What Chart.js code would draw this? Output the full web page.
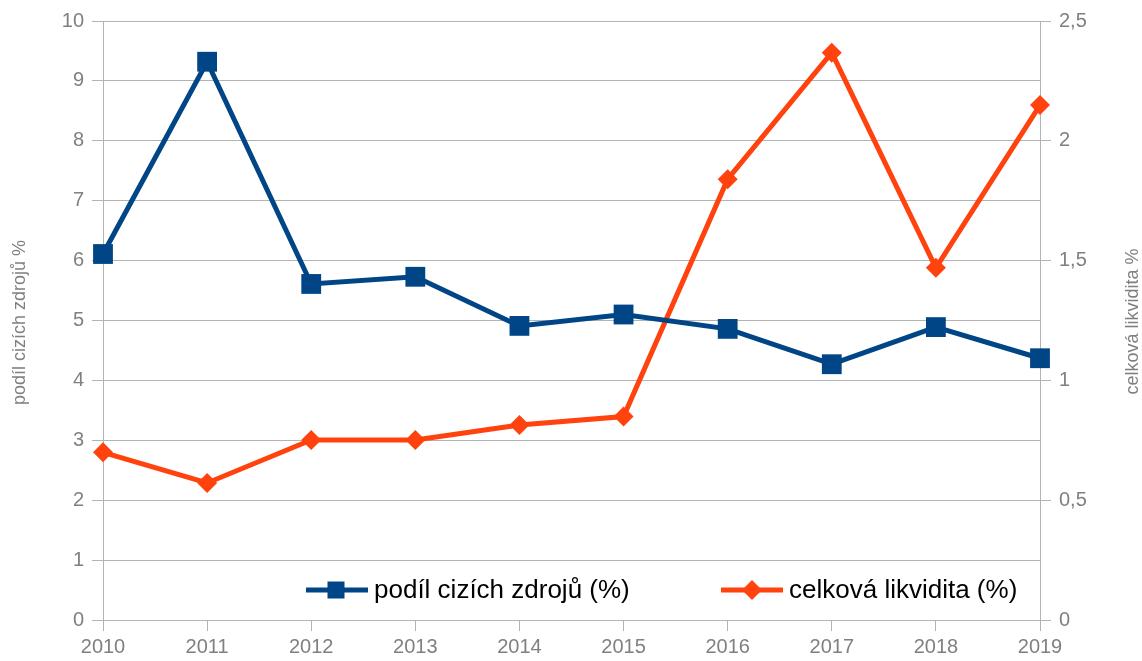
<!DOCTYPE html>
<html><head><meta charset="utf-8">
<script src="https://cdn.jsdelivr.net/npm/chart.js"></script>
<style>html,body{margin:0;padding:0;background:#fff}#wrap{width:1142px;height:661px}</style>
</head><body><div id="wrap"><canvas id="c" width="1142" height="661"></canvas></div>
<script>
const categories = ['2010','2011','2012','2013','2014','2015','2016','2017','2018','2019'];
const podilCizichZdroju = [6.11, 9.32, 5.61, 5.73, 4.91, 5.10, 4.86, 4.27, 4.89, 4.37];
const celkovaLikvidita = [0.70, 0.572, 0.751, 0.751, 0.814, 0.849, 1.84, 2.368, 1.47, 2.149];
const leftTickLabels = ['0','1','2','3','4','5','6','7','8','9','10'];
const rightTickLabels = ['0','0,5','1','1,5','2','2,5'];
const seriesNames = ['podíl cizích zdrojů (%)', 'celková likvidita (%)'];
const axisTitles = ['podíl cizích zdrojů %', 'celková likvidita %'];

const BLUE = '#004586', ORANGE = '#ff420e', GRID = '#b3b3b3', TXT = '#808080';
const FONT = '"Liberation Sans", Arial, sans-serif';

const overlay = {
  id: 'overlay',
  afterDraw(chart) {
    const ctx = chart.ctx, ca = chart.chartArea;
    const cy = (ca.top + ca.bottom) / 2;
    ctx.save();
    ctx.fillStyle = TXT;
    ctx.font = '18px ' + FONT;
    ctx.textAlign = 'center';
    ctx.textBaseline = 'middle';
    ctx.translate(20, cy + 2);
    ctx.rotate(-Math.PI / 2);
    ctx.fillText(axisTitles[0], 0, 0);
    ctx.restore();
    ctx.save();
    ctx.fillStyle = TXT;
    ctx.font = '18px ' + FONT;
    ctx.textAlign = 'center';
    ctx.textBaseline = 'middle';
    ctx.translate(1133, cy + 1);
    ctx.rotate(-Math.PI / 2);
    ctx.fillText(axisTitles[1], 0, 0);
    ctx.restore();

    // legend
    const ly = 590;
    ctx.save();
    ctx.lineCap = 'butt';
    // blue
    ctx.strokeStyle = BLUE; ctx.lineWidth = 5;
    ctx.beginPath(); ctx.moveTo(306, ly); ctx.lineTo(368, ly); ctx.stroke();
    ctx.fillStyle = BLUE; ctx.fillRect(327.5, ly - 8.5, 17, 17);
    // orange
    ctx.strokeStyle = ORANGE;
    ctx.beginPath(); ctx.moveTo(721, ly); ctx.lineTo(783, ly); ctx.stroke();
    ctx.fillStyle = ORANGE;
    ctx.beginPath(); ctx.moveTo(752, ly - 10); ctx.lineTo(762, ly); ctx.lineTo(752, ly + 10); ctx.lineTo(742, ly); ctx.closePath(); ctx.fill();
    ctx.fillStyle = '#000';
    ctx.font = '26px ' + FONT;
    ctx.textAlign = 'left'; ctx.textBaseline = 'middle';
    ctx.fillText(seriesNames[0], 374, ly + 1);
    ctx.fillText(seriesNames[1], 789, ly + 1);
    ctx.restore();
  }
};

new Chart(document.getElementById('c'), {
  type: 'line',
  data: {
    labels: categories,
    datasets: [
      { label: seriesNames[0], data: podilCizichZdroju, yAxisID: 'y',
        borderColor: BLUE, backgroundColor: BLUE, borderWidth: 5,
        pointStyle: 'rect', pointRadius: 14, pointHoverRadius: 14, pointBorderWidth: 0, tension: 0 },
      { label: seriesNames[1], data: celkovaLikvidita, yAxisID: 'y1',
        borderColor: ORANGE, backgroundColor: ORANGE, borderWidth: 5,
        pointStyle: 'rectRot', pointRadius: 10, pointHoverRadius: 10, pointBorderWidth: 0, tension: 0 }
    ]
  },
  options: {
    responsive: false, animation: false, devicePixelRatio: 1,
    layout: { padding: { top: 21, left: 0, right: 0, bottom: 0 } },
    plugins: { legend: { display: false }, tooltip: { enabled: false } },
    scales: {
      x: {
        offset: false,
        grid: { drawOnChartArea: false, color: GRID, tickLength: 11, lineWidth: 1 },
        border: { color: GRID },
        ticks: { color: TXT, font: { family: FONT, size: 20 }, padding: 4, maxRotation: 0, autoSkip: false },
        afterFit(s) { s.height = 41; }
      },
      y: {
        position: 'left', min: 0, max: 10,
        grid: { color: GRID, tickLength: 11 },
        border: { color: GRID },
        ticks: { stepSize: 1, color: TXT, font: { family: FONT, size: 20 }, padding: 8,
          callback: (v, i) => leftTickLabels[i] },
        afterFit(s) { s.width = 103; }
      },
      y1: {
        position: 'right', min: 0, max: 2.5,
        grid: { drawOnChartArea: false, color: GRID, tickLength: 11 },
        border: { color: GRID },
        ticks: { stepSize: 0.5, color: TXT, font: { family: FONT, size: 20 }, padding: 8,
          callback: (v, i) => rightTickLabels[i] },
        afterFit(s) { s.width = 102; }
      }
    }
  },
  plugins: [overlay]
});
</script></body></html>
